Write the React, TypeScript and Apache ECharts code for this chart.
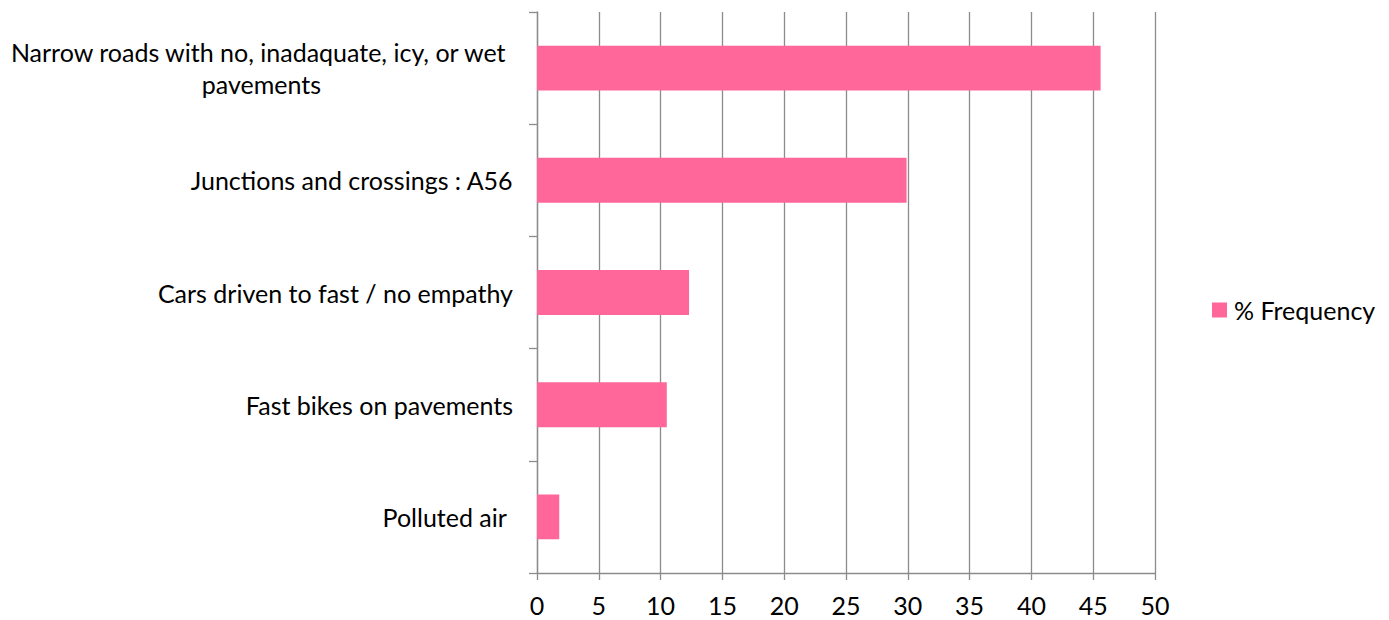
import React, { useEffect, useRef } from "react";
import * as echarts from "echarts";

const categories = [
  "Polluted air ",
  "Fast bikes on pavements",
  "Cars driven to fast / no empathy",
  "Junctions and crossings : A56",
  "Narrow roads with no, inadaquate, icy, or wet \npavements",
];
const values = [1.8, 10.5, 12.3, 29.9, 45.6];
const seriesName = "% Frequency";
const xMin = 0;
const xMax = 50;
const xInterval = 5;

const FONT = "Lato, 'Open Sans', sans-serif";
const FS = 25;

export default function App() {
  const ref = useRef<HTMLDivElement>(null);
  useEffect(() => {
    if (!ref.current) return;
    const chart = echarts.init(ref.current, undefined, { renderer: "svg" });
    chart.setOption({
      animation: false,
      textStyle: { fontFamily: FONT },
      grid: { left: 537, right: 234, top: 12, bottom: 47, containLabel: false },
      legend: {
        data: [seriesName],
        left: 1212,
        top: "middle",
        padding: 0,
        orient: "vertical",
        icon: "rect",
        itemWidth: 15,
        itemHeight: 15,
        itemGap: 7,
        textStyle: { fontSize: FS, color: "#000", fontFamily: FONT, padding: [0, 0, 0, 2] },
      },
      xAxis: {
        type: "value",
        min: xMin,
        max: xMax,
        interval: xInterval,
        axisLine: { show: true, lineStyle: { color: "#8c8c8c", width: 1.3 } },
        axisTick: { show: true, length: 7, lineStyle: { color: "#8c8c8c", width: 1.3 } },
        splitLine: { show: true, lineStyle: { color: "#8c8c8c", width: 1.3 } },
        axisLabel: { fontSize: FS, color: "#000", margin: 19, fontFamily: FONT },
      },
      yAxis: {
        type: "category",
        data: categories,
        axisLine: { show: true, lineStyle: { color: "#8c8c8c", width: 1.3 } },
        axisTick: { show: true, length: 8, lineStyle: { color: "#8c8c8c", width: 1.3 } },
        axisLabel: {
          fontSize: FS,
          color: "#000",
          margin: 24,
          fontFamily: FONT,
          lineHeight: 32,
          formatter: (v: string) =>
            v
              .split("\n")
              .map((l) => `{c|${l}}`)
              .join("\n"),
          rich: {
            c: { align: "center", fontSize: FS, color: "#000", fontFamily: FONT, lineHeight: 32 },
          },
        },
      },
      series: [
        {
          name: seriesName,
          type: "bar",
          data: values,
          barCategoryGap: "60%",
          itemStyle: { color: "#FF6699" },
        },
      ],
    });
    return () => chart.dispose();
  }, []);
  return (
    <div
      ref={ref}
      style={{ position: "absolute", left: 0, top: 0, width: 1389, height: 620 }}
    />
  );
}
